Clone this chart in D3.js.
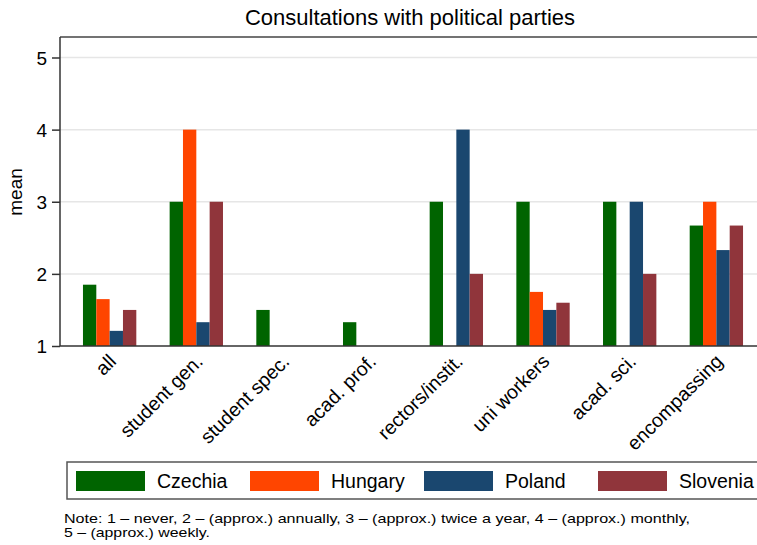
<!DOCTYPE html>
<html>
<head>
  <meta charset="utf-8">
  <title>Consultations with political parties</title>
  <style>
    body { margin: 0; background: #fff; }
    svg { display: block; font-family: "Liberation Sans", Arial, sans-serif; }
  </style>
</head>
<body>
  <svg id="canvas" width="757" height="545"></svg>
  <script src="https://d3js.org/d3.v7.min.js"></script>
  <script>
    // groups and country series (null = no bar)
    const groups = ["all", "student gen.", "student spec.", "acad. prof.", "rectors/instit.", "uni workers", "acad. sci.", "encompassing"];
    const countries = ["Czechia", "Hungary", "Poland", "Slovenia"];
    const czechia  = [1.85, 3, 1.5, 1.33, 3, 3, 3, 2.67];
    const hungary  = [1.65, 4, null, null, null, 1.75, null, 3];
    const poland   = [1.21, 1.33, null, null, 4, 1.5, 3, 2.33];
    const slovenia = [1.5, 3, null, null, 2, 1.6, 2, 2.67];
    const yTicks = [1, 2, 3, 4, 5];
    const colors = ["#006400", "#ff4500", "#1a476f", "#90353b"];
    const noteLines = ["Note: 1 \u2013 never, 2 \u2013 (approx.) annually, 3 \u2013 (approx.) twice a year, 4 \u2013 (approx.) monthly,",
                       "5 \u2013 (approx.) weekly."];

    const series = [czechia, hungary, poland, slovenia];
    const svg = d3.select("#canvas");
    const plot = { left: 60, top: 37, bottom: 346, right: 766 };

    const x = d3.scaleBand().domain(groups).range([plot.left, plot.right])
      .paddingInner(0.3846).paddingOuter(0.265);
    const xs = d3.scaleBand().domain(countries).range([0, x.bandwidth()]);
    const y = d3.scaleLinear().domain([1, 5]).range([plot.bottom, 57.5]);

    // title
    svg.append("text").attr("x", 410).attr("y", 25).attr("text-anchor", "middle")
      .style("font-size", "22px").text("Consultations with political parties");

    // grid
    svg.append("g").selectAll("line").data(yTicks.slice(1)).join("line")
      .attr("x1", plot.left).attr("x2", 757)
      .attr("y1", d => y(d)).attr("y2", d => y(d))
      .attr("stroke", "#e6e6e6").attr("stroke-width", 1.5);

    // bars
    const bars = [];
    groups.forEach((g, i) => countries.forEach((c, j) => {
      if (series[j][i] != null) bars.push({ g: g, c: c, v: series[j][i], k: j });
    }));
    svg.append("g").selectAll("rect").data(bars).join("rect")
      .attr("x", d => x(d.g) + xs(d.c))
      .attr("width", xs.bandwidth())
      .attr("y", d => y(d.v))
      .attr("height", d => y(1) - y(d.v))
      .attr("fill", d => colors[d.k]);

    // frame top
    svg.append("line").attr("x1", plot.left).attr("x2", 757).attr("y1", plot.top).attr("y2", plot.top)
      .attr("stroke", "#444").attr("stroke-width", 1.5);

    // y axis
    const yAxis = svg.append("g").attr("transform", "translate(" + plot.left + ",0)")
      .call(d3.axisLeft(y).tickValues(yTicks).tickSize(8).tickPadding(5).tickFormat(d3.format("d")));
    yAxis.select(".domain").attr("d", "M0," + plot.top + "V" + plot.bottom);
    yAxis.selectAll("line, path").attr("stroke", "#333").attr("stroke-width", 1.5);
    yAxis.selectAll("text").style("font-size", "19px").attr("fill", "#000").attr("dy", "0.35em");

    // x axis
    const xAxis = svg.append("g").attr("transform", "translate(0," + plot.bottom + ")")
      .call(d3.axisBottom(x).tickSize(0).tickPadding(0));
    xAxis.select(".domain").attr("d", "M" + plot.left + ",0H757").attr("stroke", "#333").attr("stroke-width", 1.5);
    xAxis.selectAll("text")
      .style("font-size", "19.5px").attr("fill", "#000")
      .attr("text-anchor", "end")
      .attr("dy", "0.7em")
      .attr("transform", "translate(-2,7) rotate(-45)");

    // y title
    svg.append("text").attr("transform", "translate(22,192) rotate(-90)")
      .attr("text-anchor", "middle").style("font-size", "19px").text("mean");

    // legend
    svg.append("rect").attr("x", 67).attr("y", 462).attr("width", 720).attr("height", 37)
      .attr("fill", "none").attr("stroke", "#555").attr("stroke-width", 1.5);
    const leg = svg.append("g").selectAll("g").data(countries).join("g")
      .attr("transform", (d, i) => "translate(" + (76 + i * 174) + ",471)");
    leg.append("rect").attr("width", 69).attr("height", 20).attr("fill", (d, i) => colors[i]);
    leg.append("text").attr("x", 81).attr("y", 17).style("font-size", "19.5px").text(d => d);

    // note
    svg.append("g").selectAll("text").data(noteLines).join("text")
      .attr("x", 64).attr("y", (d, i) => 523 + i * 14)
      .style("font-size", "13px")
      .attr("textLength", (d, i) => i == 0 ? 626 : 146).attr("lengthAdjust", "spacingAndGlyphs")
      .text(d => d);
  </script>
</body>
</html>
